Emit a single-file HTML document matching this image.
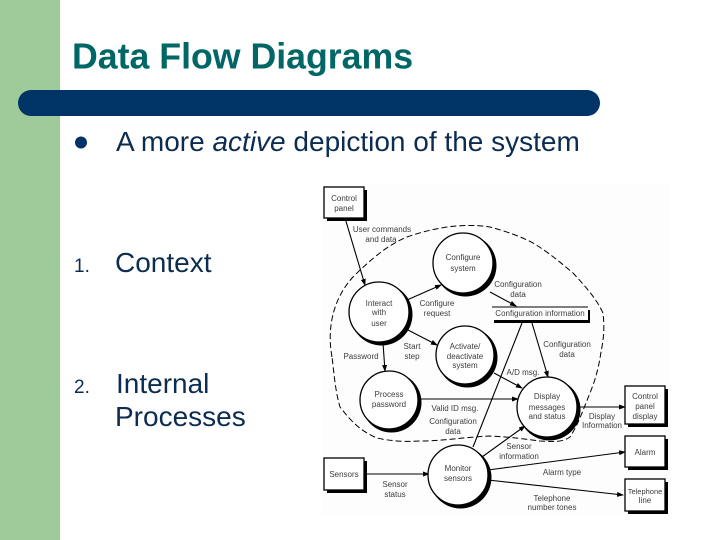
<!DOCTYPE html>
<html><head><meta charset="utf-8">
<style>
html,body{margin:0;padding:0;background:#fff}
#s{position:relative;width:720px;height:540px;overflow:hidden;background:#fff;font-family:"Liberation Sans",sans-serif}
#s svg{position:absolute;left:0;top:0}
.b{font-size:28px;fill:#0c2c50}
.n{font-size:19px;fill:#0c2c50}
.d text{font-size:8px;fill:#3c3c3c;text-anchor:middle}
.c{fill:#fff;stroke:#000;stroke-width:1.3}
.l{stroke:#000;stroke-width:1.1;fill:none;marker-end:url(#a)}
.p{stroke:#000;stroke-width:1.1;fill:none}
</style></head><body><div id="s">
<svg width="720" height="540" viewBox="0 0 720 540" xmlns="http://www.w3.org/2000/svg">
<defs><marker id="a" markerWidth="7" markerHeight="6" refX="6" refY="3" orient="auto" markerUnits="userSpaceOnUse"><path d="M0 .5L7 3L0 5.5z" fill="#000"/></marker></defs>
<rect x="0" y="0" width="60" height="540" fill="#9fcb9b"/>
<rect x="18" y="90" width="582" height="26" rx="13" fill="#003366"/>
<text x="72" y="68.5" font-size="35.7" font-weight="700" fill="#006666">Data Flow Diagrams</text>
<circle cx="81" cy="142.5" r="6" fill="#003366"/>
<text class="b" x="116" y="151">A more <tspan font-style="italic">active</tspan> depiction of the system</text>
<text class="n" x="74" y="272">1.</text>
<text class="b" x="115" y="272">Context</text>
<text class="n" x="74" y="393">2.</text>
<text class="b" x="116" y="393">Internal</text>
<text class="b" x="115" y="426">Processes</text>
<rect x="322" y="185" width="348" height="330" fill="#fdfdfd"/>
<g style="filter:blur(.22px)">
<path d="M332 357C327 330 332 300 353 277C372 258 388 245 407 237C435 227 465 223 490 227C505 231 520 236 533 243C548 252 560 262 573 273C585 286 596 298 603 313C605 330 603 342 601 352C598 372 594 383 590 393C583 410 578 425 570 437C563 442 555 442 540 441C525 439 510 437 490 436C465 437 445 441 420 441C405 442 390 441 377 438C360 431 350 420 340 407C335 390 334 372 332 357" fill="none" stroke="#000" stroke-width="1" stroke-dasharray="6 3"/>
<path class="l" d="M345 218L365 285"/>
<path class="l" d="M407 300L441 285"/>
<path class="l" d="M408 330L437 345"/>
<path class="l" d="M383 343L385 371"/>
<path class="l" d="M490 292L516 306"/>
<path class="p" d="M522 323L473 447"/>
<path class="l" d="M532 323L548 377"/>
<path class="l" d="M494 373L522 388"/>
<path class="l" d="M420 399H518"/>
<path class="l" d="M482 457L525 426"/>
<path class="l" d="M578 407H625"/>
<path class="l" d="M488 470L625 452"/>
<path class="l" d="M488 480L623 495"/>
<path class="l" d="M367 474H429"/>
<g fill="#000">
<circle cx="465.5" cy="265.5" r="31"/><circle cx="381.5" cy="314.5" r="31"/><circle cx="467.5" cy="357.5" r="30"/><circle cx="391.5" cy="402.5" r="30"/><circle cx="460.5" cy="477.5" r="31"/><circle cx="549.5" cy="409.5" r="31"/>
<rect x="327" y="190" width="40" height="31"/><rect x="327" y="461" width="40" height="32"/><rect x="628" y="389" width="40" height="38"/><rect x="628" y="439" width="40" height="31"/><rect x="628" y="482" width="40" height="32"/>
<rect x="494" y="310" width="96" height="13"/>
</g>
<g class="c">
<circle cx="463" cy="263" r="30"/><circle cx="379" cy="312" r="30"/><circle cx="465" cy="355" r="29"/><circle cx="389" cy="400" r="29"/><circle cx="458" cy="475" r="30"/><circle cx="547" cy="407" r="30"/>
<rect x="324" y="187" width="40" height="31"/><rect x="324" y="458" width="40" height="32"/><rect x="625" y="386" width="40" height="38"/><rect x="625" y="436" width="40" height="31"/><rect x="625" y="479" width="40" height="32"/>
</g>
<rect x="492" y="307" width="96" height="13" fill="#fff"/>
<path class="p" d="M492 307H588"/>
<g class="d">
<text x="344" y="201">Control</text><text x="344" y="211">panel</text>
<text x="382" y="232">User commands</text><text x="381" y="242">and data</text>
<text x="463" y="260">Configure</text><text x="463" y="271">system</text>
<text x="518" y="287">Configuration</text><text x="518" y="297">data</text>
<text x="379" y="306">Interact</text><text x="379" y="315">with</text><text x="379" y="326">user</text>
<text x="437" y="306">Configure</text><text x="437" y="316">request</text>
<text x="540" y="316">Configuration information</text>
<text x="412" y="349">Start</text><text x="412" y="359">step</text>
<text x="361" y="359">Password</text>
<text x="465" y="349">Activate/</text><text x="465" y="359">deactivate</text><text x="465" y="368">system</text>
<text x="567" y="347">Configuration</text><text x="567" y="357">data</text>
<text x="523" y="375">A/D msg.</text>
<text x="389" y="397">Process</text><text x="389" y="407">password</text>
<text x="455" y="411">Valid ID msg.</text>
<text x="453" y="424">Configuration</text><text x="453" y="434">data</text>
<text x="547" y="399">Display</text><text x="547" y="410">messages</text><text x="547" y="419">and status</text>
<text x="602" y="419">Display</text><text x="602" y="428">Information</text>
<text x="645" y="399">Control</text><text x="645" y="409">panel</text><text x="645" y="419">display</text>
<text x="645" y="455">Alarm</text>
<text x="645" y="494" style="font-size:7.5px">Telephone</text><text x="645" y="503">line</text>
<text x="519" y="449">Sensor</text><text x="519" y="459">information</text>
<text x="562" y="475">Alarm type</text>
<text x="552" y="501">Telephone</text><text x="552" y="510">number tones</text>
<text x="458" y="471">Monitor</text><text x="458" y="481">sensors</text>
<text x="344" y="477">Sensors</text>
<text x="395" y="487">Sensor</text><text x="395" y="497">status</text>
</g>
</g>
</svg>
</div></body></html>
